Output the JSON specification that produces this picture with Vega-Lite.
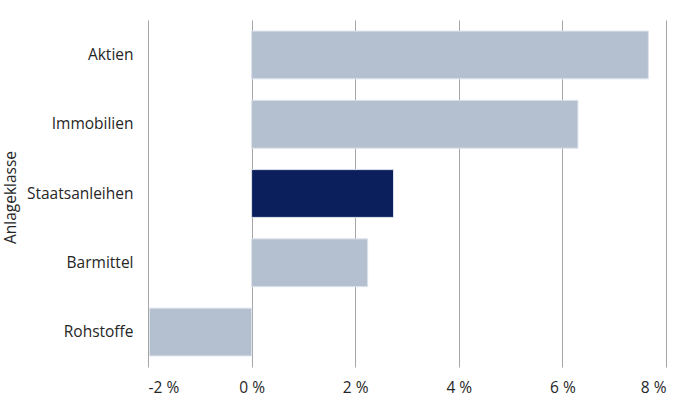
{
  "$schema": "https://vega.github.io/schema/vega-lite/v6.json",
  "autosize": "none",
  "width": 518,
  "height": 347,
  "padding": {"left": 148, "top": 20, "right": 34, "bottom": 44},
  "background": "white",
  "data": {
    "values": [
      {"klasse": "Aktien", "wert": 0.0766, "hl": "n"},
      {"klasse": "Immobilien", "wert": 0.0630, "hl": "n"},
      {"klasse": "Staatsanleihen", "wert": 0.0274, "hl": "y"},
      {"klasse": "Barmittel", "wert": 0.0224, "hl": "n"},
      {"klasse": "Rohstoffe", "wert": -0.0197, "hl": "n"}
    ]
  },
  "config": {
    "view": {"stroke": null},
    "font": "Open Sans",
    "axis": {"labelFont": "Open Sans", "titleFont": "Open Sans"}
  },
  "mark": {"type": "bar", "stroke": "#dde3ec", "strokeWidth": 1},
  "encoding": {
    "y": {
      "field": "klasse",
      "type": "nominal",
      "sort": null,
      "title": "Anlageklasse",
      "scale": {"paddingInner": 0.31, "paddingOuter": 0.16},
      "axis": {
        "ticks": false,
        "domain": false,
        "grid": false,
        "labelFontSize": 15.5,
        "labelColor": "#262626",
        "labelPadding": 15,
        "titleFontSize": 15.5,
        "titleFontWeight": "normal",
        "titleColor": "#262626",
        "titleX": -130,
        "titleY": 177,
        "titleAlign": "center",
        "titleBaseline": "bottom",
        "titleAngle": -90
      }
    },
    "x": {
      "field": "wert",
      "type": "quantitative",
      "title": null,
      "scale": {"domain": [-0.02, 0.08], "nice": false, "zero": false},
      "axis": {
        "values": [-0.02, 0, 0.02, 0.04, 0.06, 0.08],
        "labelExpr": "(datum.value < 0 ? '-' : '') + format(abs(datum.value*100), 'd') + ' %'",
        "ticks": false,
        "domain": false,
        "grid": true,
        "gridColor": "#a6a6a6",
        "gridWidth": 1,
        "labelFontSize": 15.5,
        "labelColor": "#262626",
        "labelPadding": 13
      }
    },
    "color": {
      "field": "hl",
      "type": "nominal",
      "scale": {"domain": ["n", "y"], "range": ["#b4bfcf", "#0a1f5c"]},
      "legend": null
    }
  }
}
